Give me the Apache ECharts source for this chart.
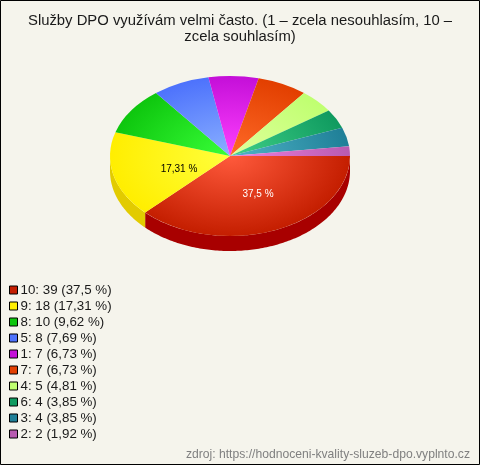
<!DOCTYPE html>
<html><head><meta charset="utf-8">
<style>html,body{margin:0;padding:0;background:#f5f4ec}#c{width:480px;height:465px}</style>
<script src="https://cdn.jsdelivr.net/npm/echarts@6/dist/echarts.min.js"></script>
</head><body><div id="c"></div>
<script>
const categories = ['10','9','8','5','1','7','4','6','3','2'];
const counts = [39,18,10,8,7,7,5,4,4,2];
const baseColors = ['#c41e00','#ffee00','#0ec60e','#4d72fc','#c40fd8','#e23f00','#bfff70','#0f9a5f','#1f7f97','#b85bb0'];
const lightColors = ['#ff5a3c','#ffff3c','#38ff38','#8ab0ff','#ff40ff','#ff6a28','#e0ff9c','#40d088','#50b4c8','#f080e0'];
const wallColors = ['#a80000','#e2cb00','#0aa00a','#3a58c8','#9a0cb0','#b83000','#98cc58','#0c7a4c','#186678','#944890'];
const titleText = 'Služby DPO využívám velmi často. (1 – zcela nesouhlasím, 10 –\nzcela souhlasím)';
const sourceText = 'zdroj: https://hodnoceni-kvality-sluzeb-dpo.vyplnto.cz';
const labelOffsets = {'10':[28,38],'9':[-51,13]};

const total = counts.reduce((a,b)=>a+b,0);
const pct = v => String(parseFloat((v/total*100).toFixed(2))).replace('.',',');
const CX=230, CY=156, RX=120, RY=80, DEPTH=15;
const starts=[]; counts.reduce((a,v,i)=>(starts[i]=a,a+v),0);

function render(i){
  return function(params,api){
    const v=api.value(0);
    const a0=starts[i]/total*2*Math.PI, a1=a0+v/total*2*Math.PI;
    const children=[];
    const w0=Math.min(a0,Math.PI), w1=Math.min(a1,Math.PI);
    if(w1>w0){
      const top=[],bot=[];
      const n=Math.max(2,Math.ceil((w1-w0)*60));
      for(let k=0;k<=n;k++){
        const t=w0+(w1-w0)*k/n;
        const x=CX+RX*Math.cos(t), y=CY+RY*Math.sin(t);
        top.push([x,y]); bot.unshift([x,y+DEPTH]);
      }
      children.push({type:'polygon',shape:{points:top.concat(bot)},style:{fill:wallColors[i]}});
    }
    children.push({type:'sector',x:CX,y:CY,scaleY:RY/RX,
      shape:{cx:0,cy:0,r:RX,r0:0,startAngle:a0,endAngle:a1,clockwise:true},
      style:{fill:{type:'radial',x:0,y:0,r:RX,global:true,colorStops:[{offset:0,color:lightColors[i]},{offset:1,color:baseColors[i]}]}}});
    const off=labelOffsets[categories[i]];
    if(off){
      children.push({type:'text',x:CX+off[0],y:CY+off[1],z2:10,
        style:{text:pct(v)+' %',align:'center',verticalAlign:'middle',font:'10px "Liberation Sans"',fill:i===0?'#ffffff':'#000000'}});
    }
    return {type:'group',children};
  };
}

const chart=echarts.init(document.getElementById('c'),null,{renderer:'canvas'});
chart.setOption({
  animation:false,
  backgroundColor:'#f5f4ec',
  title:[
    {text:titleText,left:240,top:13,textAlign:'center',padding:0,
     textStyle:{fontFamily:'Liberation Sans',fontSize:14.85,fontWeight:'normal',color:'#1a1a1a',lineHeight:16}},
    {text:sourceText,right:10,top:449,padding:0,
     textStyle:{fontFamily:'Liberation Sans',fontSize:12.15,fontWeight:'normal',color:'#808080'}}
  ],
  legend:{orient:'vertical',left:9,top:283,padding:0,icon:'rect',itemWidth:8,itemHeight:8,itemGap:2,
    data:categories,
    itemStyle:{borderColor:'#000',borderWidth:1},
    textStyle:{fontFamily:'Liberation Sans',fontSize:13.33,color:'#1a1a1a',padding:[0,0,0,-2],height:14,lineHeight:14},
    selectedMode:false,
    formatter:n=>{const i=categories.indexOf(n);return n+': '+counts[i]+' ('+pct(counts[i])+' %)';}},
  graphic:[{type:'rect',shape:{x:.5,y:.5,width:479,height:464},style:{fill:'none',stroke:'#000',lineWidth:1},silent:true}],
  series:categories.map((c,i)=>({type:'custom',name:c,coordinateSystem:'none',silent:true,
    itemStyle:{color:baseColors[i]},data:[[counts[i]]],renderItem:render(i)}))
});
</script></body></html>
